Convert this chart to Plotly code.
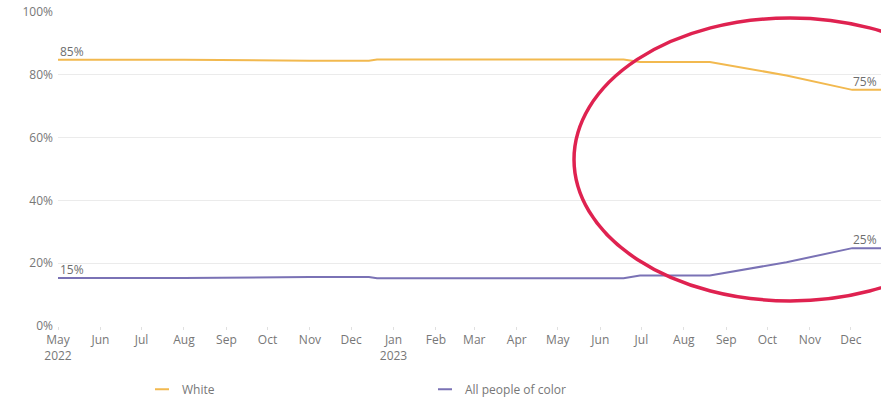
import plotly.graph_objects as go

dates = ["2022-05-01", "2022-08-01", "2022-11-01", "2022-12-14", "2022-12-20",
         "2023-06-18", "2023-06-30", "2023-08-20", "2023-10-15", "2023-12-02", "2023-12-23"]
white = [84.8, 84.8, 84.5, 84.5, 84.9, 84.9, 84.1, 84.1, 79.8, 75.2, 75.2]
poc = [15.3, 15.3, 15.6, 15.6, 15.2, 15.2, 16.1, 16.1, 20.3, 24.8, 24.8]

tick_vals = ["2022-05-01", "2022-06-01", "2022-07-01", "2022-08-01", "2022-09-01", "2022-10-01",
             "2022-11-01", "2022-12-01", "2023-01-01", "2023-02-01", "2023-03-01", "2023-04-01",
             "2023-05-01", "2023-06-01", "2023-07-01", "2023-08-01", "2023-09-01", "2023-10-01",
             "2023-11-01", "2023-12-01"]
tick_text = ["May<br>2022", "Jun", "Jul", "Aug", "Sep", "Oct", "Nov", "Dec", "Jan<br>2023", "Feb",
             "Mar", "Apr", "May", "Jun", "Jul", "Aug", "Sep", "Oct", "Nov", "Dec"]

WHITE_C = "#f2b94f"
POC_C = "#7a72b5"
GRID = "#ebebeb"
TXT = "#777777"
FONT = "Open Sans"

fig = go.Figure()
fig.add_trace(go.Scatter(x=dates, y=white, mode="lines", line=dict(color=WHITE_C, width=2),
                         showlegend=False, hoverinfo="skip"))
fig.add_trace(go.Scatter(x=dates, y=poc, mode="lines", line=dict(color=POC_C, width=2),
                         showlegend=False, hoverinfo="skip"))
# legend entries
fig.add_trace(go.Scatter(x=[None], y=[None], mode="markers", name="White",
                         marker=dict(symbol="line-ew-open", size=10, color=WHITE_C,
                                     line=dict(color=WHITE_C, width=2))))
fig.add_trace(go.Scatter(x=[None], y=[None], mode="markers", name="All people of color",
                         marker=dict(symbol="line-ew-open", size=10, color=POC_C,
                                     line=dict(color=POC_C, width=2))))

lab = dict(showarrow=False, font=dict(family=FONT, size=12, color="#6e6e6e"), yanchor="bottom")
fig.add_annotation(x=dates[0], y=white[0], text=f"{white[0]:.0f}%", xanchor="left", yshift=-2, **lab)
fig.add_annotation(x=dates[0], y=poc[0], text=f"{poc[0]:.0f}%", xanchor="left", yshift=-2, **lab)
fig.add_annotation(x=dates[-1], y=white[-1], text=f"{white[-1]:.0f}%", xanchor="right", xshift=-2, yshift=-2, **lab)
fig.add_annotation(x=dates[-1], y=poc[-1], text=f"{poc[-1]:.0f}%", xanchor="right", xshift=-2, yshift=-2, **lab)

fig.add_shape(type="circle", xref="paper", yref="paper", x0=0.627, x1=1.152, y0=0.08, y1=0.981,
              line=dict(color="#df2250", width=3.5), layer="above")

fig.update_layout(
    width=881, height=400,
    margin=dict(l=58, r=0, t=12, b=74, autoexpand=False),
    paper_bgcolor="white", plot_bgcolor="white",
    font=dict(family=FONT, size=12, color=TXT),
    xaxis=dict(range=["2022-05-01", "2023-12-23"], tickmode="array", tickvals=tick_vals,
               ticktext=tick_text,
               showgrid=False, ticks="outside", ticklen=3, tickcolor="#e0e0e0",
               showline=False, zeroline=False, tickfont=dict(size=12, color=TXT),
               automargin=False),
    yaxis=dict(range=[0, 100], dtick=20, ticksuffix="%", gridcolor=GRID, gridwidth=1,
               zeroline=False, showline=False, tickfont=dict(size=12, color=TXT),
               ticklabelstandoff=4, automargin=False),
    legend=dict(orientation="h", x=(142 - 58) / 823, xanchor="left", y=-0.155, yanchor="top",
                entrywidth=238, entrywidthmode="pixels", font=dict(size=12, color=TXT),
                itemwidth=30),
)
fig.write_html("out.html")
